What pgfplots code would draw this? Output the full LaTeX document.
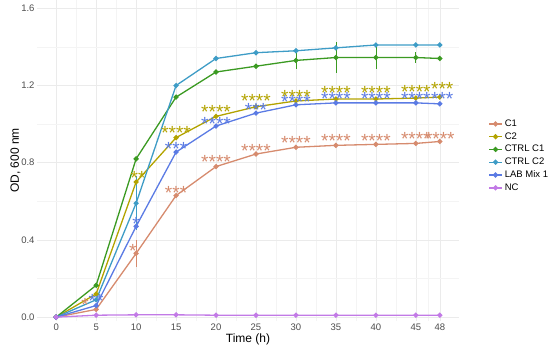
\documentclass[border=0pt]{standalone}
\usepackage{pgfplots}
\pgfplotsset{compat=1.18}
\usepackage{fontspec}
\setmainfont{Liberation Sans}
\definecolor{cA}{HTML}{D68B6E}
\definecolor{cB}{HTML}{B3A300}
\definecolor{cC}{HTML}{3B9A22}
\definecolor{cD}{HTML}{3E9CC6}
\definecolor{cE}{HTML}{5B7BE4}
\definecolor{cF}{HTML}{C27AE6}
\definecolor{gmaj}{HTML}{EBEBEB}
\definecolor{gmin}{HTML}{F4F4F4}
\definecolor{tick}{HTML}{4D4D4D}
\begin{document}
\begin{tikzpicture}
\path[use as bounding box] (0,0) rectangle (550pt,351pt);
\begin{axis}[
  at={(37pt,30pt)}, anchor=south west,
  scale only axis, width=422pt, height=320.8pt,
  xmin=-2.4, xmax=50.4, ymin=-0.02, ymax=1.642,
  xtick={0,5,10,15,20,25,30,35,40,45,48},
  xticklabels={0,5,10,15,20,25,30,35,40,45,48},
  minor xtick={2.5,7.5,12.5,17.5,22.5,27.5,32.5,37.5,42.5,46.5},
  ytick={0,0.4,0.8,1.2,1.6},
  yticklabels={0.0,0.4,0.8,1.2,1.6},
  minor ytick={0.2,0.6,1.0,1.4},
  grid=both,
  major grid style={draw=gmaj, line width=0.6pt},
  minor grid style={draw=gmin, line width=0.4pt},
  axis line style={draw=none},
  tick style={draw=none},
  ticklabel style={font=\fontsize{9.5}{11}\selectfont, text=tick},
  xticklabel style={yshift=1pt},
  yticklabel style={xshift=1pt},
  xlabel={Time (h)}, ylabel={OD, 600 nm},
  label style={font=\fontsize{12}{14}\selectfont},
  xlabel style={yshift=3pt},
  ylabel style={yshift=-6pt},
  legend style={at={(1.062,0.64)}, anchor=north west, draw=none, fill=none,
    font=\fontsize{9.5}{11}\selectfont, row sep=0.6pt,
    legend cell align=left},
  legend image code/.code={
    \draw[#1, mark=none] (0cm,0cm) -- (0.46cm,0cm);
    \draw[#1, only marks] plot coordinates {(0.23cm,0cm)};
  },
  every axis plot/.append style={line width=1.3pt, mark=*, mark size=1.9pt},
  error bars/y dir=both, error bars/y explicit,
  error bars/error mark=none,
]
% C1
\addplot[cA, error bars/error bar style={line width=0.7pt, cA}] coordinates {
 (0,0) (5,0.04) (10,0.33) +- (0,0.07) (15,0.63) (20,0.78) (25,0.845) (30,0.88) (35,0.89) (40,0.895) (45,0.90) (48,0.91)};
\addlegendentry{C1}
% C2
\addplot[cB, error bars/error bar style={line width=0.7pt, cB}] coordinates {
 (0,0) (5,0.12) (10,0.70) (15,0.93) (20,1.04) (25,1.09) (30,1.12) (35,1.13) (40,1.13) (45,1.135) (48,1.14)};
\addlegendentry{C2}
% CTRL C1
\addplot[cC, error bars/error bar style={line width=0.7pt, cC}] coordinates {
 (0,0) (5,0.165) (10,0.82) (15,1.14) (20,1.27) (25,1.30) (30,1.33) +- (0,0.045) (35,1.345) +- (0,0.08) (40,1.345) +- (0,0.06) (45,1.345) +- (0,0.03) (48,1.34)};
\addlegendentry{CTRL C1}
% CTRL C2
\addplot[cD, error bars/error bar style={line width=0.7pt, cD}] coordinates {
 (0,0) (5,0.09) (10,0.59) +- (0,0.14) (15,1.20) (20,1.34) (25,1.37) (30,1.38) (35,1.395) (40,1.41) (45,1.41) (48,1.41)};
\addlegendentry{CTRL C2}
% LAB Mix 1
\addplot[cE, error bars/error bar style={line width=0.7pt, cE}] coordinates {
 (0,0) (5,0.06) (10,0.47) (15,0.855) (20,0.99) (25,1.057) (30,1.10) (35,1.11) (40,1.11) (45,1.11) (48,1.105)};
\addlegendentry{LAB Mix 1}
% NC
\addplot[cF] coordinates {
 (0,0) (5,0.01) (10,0.012) (15,0.012) (20,0.01) (25,0.01) (30,0.01) (35,0.01) (40,0.01) (45,0.01) (48,0.01)};
\addlegendentry{NC}
% significance stars
\pgfplotsset{starlab/.style={forget plot, only marks, mark=none,
  nodes near coords, point meta=explicit symbolic,
  nodes near coords align={anchor=base},
  every node near coord/.append style={font=\fontsize{19}{19}\selectfont, text=#1, inner sep=0pt, yshift=-11.8pt}}}
\addplot[starlab=cA] table[meta=s] {
x y s
3.6 0.088 *
9.6 0.37 *
15 0.67 ***
20 0.83 ****
25 0.89 ****
30 0.93 ****
35 0.94 ****
40 0.94 ****
45 0.95 ****
48 0.95 ****
};
\addplot[starlab=cB] table[meta=s] {
x y s
10.25 0.75 **
15 0.98 ****
20 1.09 ****
25 1.145 ****
30 1.17 ****
35 1.19 ****
40 1.19 ****
45 1.195 ****
48.3 1.21 ***
};
\addplot[starlab=cE] table[meta=s] {
x y s
5 0.11 **
10 0.51 *
15 0.90 ***
20 1.03 ****
25 1.10 ***
30 1.14 ****
35 1.16 ****
40 1.16 ****
45 1.16 ****
48.3 1.16 ***
};
\end{axis}
\end{tikzpicture}
\end{document}
